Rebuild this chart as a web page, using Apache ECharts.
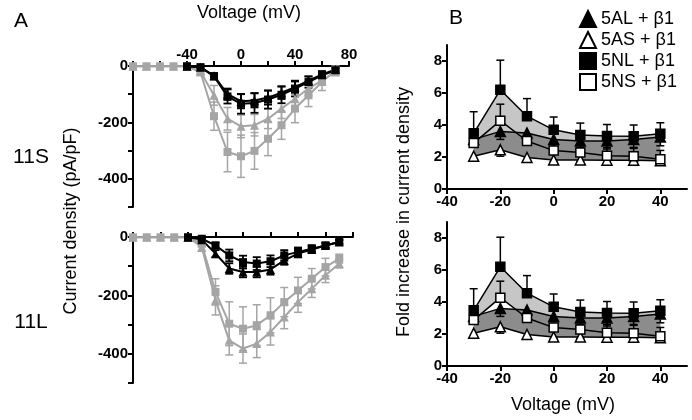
<!DOCTYPE html>
<html>
<head>
<meta charset="utf-8">
<script src="https://cdn.jsdelivr.net/npm/echarts@6/dist/echarts.min.js"></script>
<style>
  html, body { margin: 0; padding: 0; background: #fff; }
  #chart { width: 692px; height: 420px; }
</style>
</head>
<body>
<div id="chart"></div>
<script>
// panel A: current density vs voltage
var voltsA = [-80, -70, -60, -50, -40, -30, -20, -10, 0, 10, 20, 30, 40, 50, 60, 70];

// 11S
var s_graySq   = [-1, -1, -1, -1, -1, -22, -178, -305, -320, -301, -258, -210, -151, -104, -57, -15];
var s_graySqE  = [0, 0, 0, 0, 0, 10, 50, 70, 75, 65, 60, 50, 50, 40, 30, 15];
var s_grayTri  = [-1, -1, -1, -1, -1, -20, -104, -187, -214, -210, -187, -151, -116, -80, -51, -21];
var s_grayTriE = [0, 0, 0, 0, 0, 8, 35, 40, 40, 38, 35, 35, 30, 25, 15, 10];
var s_blkSq    = [null, null, null, null, -1, -4, -37, -108, -134, -131, -119, -102, -80, -57, -33, -15];
var s_blkSqE   = [null, null, null, null, 0, 5, 10, 25, 35, 35, 32, 30, 28, 20, 15, 8];
var s_blkTri   = [null, null, null, null, -1, -4, -35, -100, -125, -122, -112, -95, -75, -52, -30, -12];
var s_blkTriE  = [null, null, null, null, 0, 5, 10, 20, 25, 25, 25, 22, 20, 15, 10, 5];

// 11L
var l_graySq   = [-1, -1, -1, -1, -1, -23, -188, -297, -314, -302, -268, -223, -183, -143, -103, -74];
var l_graySqE  = [0, 0, 0, 0, 0, 10, 45, 75, 75, 70, 60, 50, 45, 35, 30, 15];
var l_grayTri  = [-1, -1, -1, -1, -1, -34, -217, -354, -382, -365, -325, -274, -223, -177, -131, -91];
var l_grayTriE = [0, 0, 0, 0, 0, 15, 50, 50, 50, 48, 45, 40, 35, 30, 25, 15];
var l_blkSq    = [null, null, null, null, -1, -6, -29, -63, -86, -91, -83, -63, -51, -40, -29, -17];
var l_blkSqE   = [null, null, null, null, 0, 5, 10, 20, 22, 22, 20, 18, 15, 12, 10, 8];
var l_blkTri   = [null, null, null, null, -1, -9, -57, -108, -120, -120, -111, -80, -57, -43, -29, -17];
var l_blkTriE  = [null, null, null, null, 0, 5, 12, 18, 18, 18, 18, 15, 12, 10, 8, 6];

// panel B: fold increase
var voltsB = [-30, -20, -10, 0, 10, 20, 30, 40];
var b_AL  = [3.1, 3.6, 3.5, 3.1, 3.0, 3.0, 3.1, 3.25];
var b_ALE = [0.4, 0.5, 0.2, 0.3, 0.4, 0.5, 0.5, 0.55];   // drawn downward
var b_AS  = [2.05, 2.45, 1.97, 1.82, 1.82, 1.8, 1.8, 1.76];
var b_ASE = [0.3, 0.4, 0.3, 0.1, 0.1, 0.1, 0.1, 0.1];    // downward
var b_NL  = [3.48, 6.2, 4.55, 3.7, 3.37, 3.31, 3.3, 3.46];
var b_NLE = [1.35, 1.85, 1.1, 0.8, 0.75, 0.72, 0.7, 0.68]; // upward
var b_NS  = [2.87, 4.27, 3.0, 2.4, 2.28, 2.08, 2.04, 1.86];
var b_NSE = [0.5, 1.03, 0.4, 0.4, 0.45, 0.5, 0.5, 0.55];  // upward

var legendNames = ['5AL + β1', '5AS + β1', '5NL + β1', '5NS + β1'];

var FONT = "'Liberation Sans', Arial, sans-serif";
var GRAY = '#a5a5a5';
var LIGHT = '#c6c6c6';
var DARK = '#8c8c8c';

var chart = echarts.init(document.getElementById('chart'));

function errBars(xi, volts, vals, lo, hi, color, w) {
    var data = [];
    volts.forEach(function (v, i) {
        if (vals[i] == null) return;
        data.push([v, vals[i] - lo[i], vals[i] + hi[i], vals[i]]);
    });
    return {
        type: 'custom', xAxisIndex: xi, yAxisIndex: xi, z: 3, silent: true,
        encode: {x: 0, y: [1, 2]},
        data: data,
        renderItem: function (params, api) {
            var x = api.value(0), a = api.value(1), b = api.value(2), m = api.value(3);
            if (a === b) return null;
            var p1 = api.coord([x, a]), p2 = api.coord([x, b]);
            var st = {stroke: color, lineWidth: w};
            var kids = [{type: 'line', shape: {x1: p1[0], y1: p1[1], x2: p2[0], y2: p2[1]}, style: st}];
            if (a !== m) kids.push({type: 'line', shape: {x1: p1[0] - 4, y1: p1[1], x2: p1[0] + 4, y2: p1[1]}, style: st});
            if (b !== m) kids.push({type: 'line', shape: {x1: p2[0] - 4, y1: p2[1], x2: p2[0] + 4, y2: p2[1]}, style: st});
            return {type: 'group', children: kids};
        }
    };
}

function zeros(n) { var r = []; for (var i = 0; i < n; i++) r.push(0); return r; }

function lineA(xi, vals, color, sym, size) {
    return {
        type: 'line', xAxisIndex: xi, yAxisIndex: xi, z: 4,
        data: voltsA.map(function (v, i) { return [v, vals[i]]; }),
        symbol: sym, symbolSize: size, showSymbol: true,
        lineStyle: {color: color, width: 2},
        itemStyle: {color: color},
        connectNulls: false, animation: false
    };
}

function lineB(xi, name, vals, sym, fill) {
    return {
        type: 'line', name: name, xAxisIndex: xi, yAxisIndex: xi, z: 5,
        data: voltsB.map(function (v, i) { return [v, vals[i]]; }),
        symbol: sym, symbolSize: sym === 'triangle' ? 10 : 9,
        lineStyle: {color: '#000', width: 1.5},
        itemStyle: {color: fill, borderColor: '#000', borderWidth: 1.5},
        animation: false
    };
}

function band(xi, lower, upper, color, z) {
    return {
        type: 'custom', xAxisIndex: xi, yAxisIndex: xi, z: z, silent: true,
        encode: {x: 0, y: [1, 2]},
        data: voltsB.map(function (v, i) { return [v, lower[i], upper[i]]; }),
        renderItem: function (params, api) {
            if (params.dataIndex !== 0) return null;
            var pts = [];
            voltsB.forEach(function (v, i) { pts.push(api.coord([v, upper[i]])); });
            for (var i = voltsB.length - 1; i >= 0; i--) pts.push(api.coord([voltsB[i], lower[i]]));
            return {type: 'polygon', shape: {points: pts}, style: {fill: color}};
        }
    };
}

function axLine() { return {show: true, onZero: false, lineStyle: {color: '#000', width: 2}}; }
function axTick(vals) {
    var t = {show: true, length: 5, lineStyle: {color: '#000', width: 2}};
    if (vals) t.customValues = vals;
    return t;
}
function lbl(vals, margin) {
    var l = {margin: margin, fontFamily: FONT, fontWeight: 'bold', fontSize: 15, color: '#000'};
    if (vals) l.customValues = vals;
    return l;
}

// top voltage axis: major step 40 (labelled), minor ticks halve it to 20
function xA(gi, labels) {
    var l = labels ? lbl(null, 4) : {show: false};
    if (labels) {
        l.showMinLabel = true;
        l.showMaxLabel = true;
        l.formatter = function (v) { return v === -80 ? '' : String(v); };
    }
    return {
        type: 'value', gridIndex: gi, min: -80, max: 80, interval: 40, position: 'top',
        axisLine: axLine(), axisTick: axTick(), splitLine: {show: false},
        minorTick: {show: true, splitNumber: 2, length: 5, lineStyle: {color: '#000', width: 2}},
        minorSplitLine: {show: false},
        axisLabel: l
    };
}
function yA(gi) {
    return {
        type: 'value', gridIndex: gi, min: -500, max: 0, interval: 100,
        axisLine: axLine(), axisTick: axTick(), splitLine: {show: false},
        axisLabel: lbl([0, -200, -400], 5)
    };
}
function xB(gi) {
    return {
        type: 'value', gridIndex: gi, min: -40, max: 50, position: 'bottom',
        axisLine: axLine(), axisTick: axTick([-40, -20, 0, 20, 40]), splitLine: {show: false},
        axisLabel: lbl([-40, -20, 0, 20, 40], 5)
    };
}
function yB(gi) {
    return {
        type: 'value', gridIndex: gi, min: 0, max: 9,
        axisLine: axLine(), axisTick: axTick([0, 2, 4, 6, 8]), splitLine: {show: false},
        axisLabel: lbl([0, 2, 4, 6, 8], 5)
    };
}

var series = [];
// A top (11S)
series.push(errBars(0, voltsA, s_graySq, s_graySqE, s_graySqE, GRAY, 1.5));
series.push(errBars(0, voltsA, s_grayTri, s_grayTriE, s_grayTriE, GRAY, 1.5));
series.push(lineA(0, s_graySq, GRAY, 'rect', 8));
series.push(lineA(0, s_grayTri, GRAY, 'triangle', 9));
series.push(errBars(0, voltsA, s_blkSq, s_blkSqE, s_blkSqE, '#000', 1.8));
series.push(errBars(0, voltsA, s_blkTri, s_blkTriE, s_blkTriE, '#000', 1.8));
series.push(lineA(0, s_blkTri, '#000', 'triangle', 9));
series.push(lineA(0, s_blkSq, '#000', 'rect', 8));
// A bottom (11L)
series.push(errBars(1, voltsA, l_graySq, l_graySqE, l_graySqE, GRAY, 1.5));
series.push(errBars(1, voltsA, l_grayTri, l_grayTriE, l_grayTriE, GRAY, 1.5));
series.push(lineA(1, l_graySq, GRAY, 'rect', 8));
series.push(lineA(1, l_grayTri, GRAY, 'triangle', 9));
series.push(errBars(1, voltsA, l_blkSq, l_blkSqE, l_blkSqE, '#000', 1.8));
series.push(errBars(1, voltsA, l_blkTri, l_blkTriE, l_blkTriE, '#000', 1.8));
series.push(lineA(1, l_blkTri, '#000', 'triangle', 9));
series.push(lineA(1, l_blkSq, '#000', 'rect', 8));

// B top: light between 5AL and 5NL, dark between 5AS and 5AL
// B bottom: light between 5NS and 5NL, dark between 5AS and 5AL
var nB = voltsB.length;
[2, 3].forEach(function (gi) {
    if (gi === 2) series.push(band(gi, b_AL, b_NL, LIGHT, 1));
    else series.push(band(gi, b_NS, b_NL, LIGHT, 1));
    series.push(band(gi, b_AS, b_AL, DARK, 2));
    series.push(errBars(gi, voltsB, b_NL, zeros(nB), b_NLE, '#000', 1.5));
    series.push(errBars(gi, voltsB, b_NS, zeros(nB), b_NSE, '#000', 1.5));
    series.push(errBars(gi, voltsB, b_AL, b_ALE, zeros(nB), '#000', 1.5));
    series.push(errBars(gi, voltsB, b_AS, b_ASE, zeros(nB), '#000', 1.5));
    series.push(lineB(gi, legendNames[0], b_AL, 'triangle', '#000'));
    series.push(lineB(gi, legendNames[1], b_AS, 'triangle', '#fff'));
    series.push(lineB(gi, legendNames[2], b_NL, 'rect', '#000'));
    series.push(lineB(gi, legendNames[3], b_NS, 'rect', '#fff'));
});

function txt(x, y, s, size, rot) {
    return {
        type: 'text', x: x, y: y, rotation: rot || 0,
        style: {text: s, fontFamily: FONT, fontSize: size, fill: '#000', align: 'center', verticalAlign: 'middle'}
    };
}

var option = {
    animation: false,
    grid: [
        {left: 133, top: 66, width: 216, height: 141, outerBoundsMode: 'none'},
        {left: 133, top: 237, width: 220, height: 146, outerBoundsMode: 'none'},
        {left: 447, top: 45, width: 240, height: 144, outerBoundsMode: 'none'},
        {left: 447, top: 222, width: 240, height: 144, outerBoundsMode: 'none'}
    ],
    xAxis: [xA(0, true), xA(1, false), xB(2), xB(3)],
    yAxis: [yA(0), yA(1), yB(2), yB(3)],
    legend: {
        orient: 'vertical', left: 574, top: 5, itemWidth: 16, itemHeight: 16, itemGap: 3,
        selectedMode: false,
        textStyle: {fontFamily: FONT, fontSize: 18, color: '#000'},
        data: [
            {name: legendNames[0], icon: 'triangle'},
            {name: legendNames[1], icon: 'triangle'},
            {name: legendNames[2], icon: 'rect'},
            {name: legendNames[3], icon: 'rect'}
        ]
    },
    graphic: [
        txt(21, 21, 'A', 21),
        txt(456, 18, 'B', 21),
        txt(249, 13, 'Voltage (mV)', 18),
        txt(563, 405, 'Voltage (mV)', 18),
        txt(31, 157, '11S', 21),
        txt(31, 322, '11L', 21),
        txt(71, 221, 'Current density (pA/pF)', 18, Math.PI / 2),
        txt(404, 212, 'Fold increase in current density', 18, Math.PI / 2)
    ],
    series: series
};

chart.setOption(option);
</script>
</body>
</html>
